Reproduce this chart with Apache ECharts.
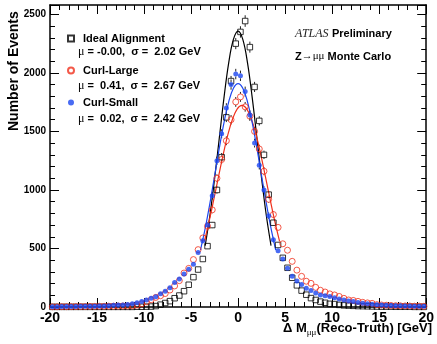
<!DOCTYPE html>
<html>
<head>
<meta charset="utf-8">
<script src="https://cdn.jsdelivr.net/npm/echarts@6/dist/echarts.min.js"></script>
<style>
  html, body { margin: 0; padding: 0; background: #fff; }
  #chart { width: 437px; height: 344px; }
</style>
</head>
<body>
<div id="chart"></div>
<script>
// histogram bins: 80 bins of 0.5 GeV from -20 to 20
const binLow = -20
const binWidth = 0.5

const idealAlignment = [
  1, 1, 1, 1, 1, 1, 1, 1, 1, 1,
  1, 1, 1, 1, 1, 1, 1, 1, 2, 2,
  3, 4, 8, 20, 34, 50, 75, 98, 135, 190,
  255, 320, 410, 520, 700, 1000, 1280, 1620, 1930, 2250,
  2350, 2443, 2220, 1880, 1590, 1300, 960, 720, 530, 420,
  335, 250, 185, 140, 105, 76, 60, 46, 36, 27,
  25, 18, 14, 12, 10, 8, 7, 6, 5, 4,
  3, 3, 3, 2, 2, 2, 2, 1, 1, 1
]
const curlLarge = [
  2, 2, 3, 3, 3, 4, 4, 4, 5, 5,
  6, 6, 7, 7, 8, 9, 9, 11, 17, 27,
  45, 62, 82, 96, 115, 145, 180, 225, 290, 330,
  405, 490, 590, 690, 830, 1100, 1260, 1420, 1600, 1752,
  1795, 1710, 1630, 1500, 1350, 1160, 920, 790, 680, 540,
  485, 390, 315, 262, 220, 202, 168, 143, 128, 112,
  103, 90, 74, 60, 56, 48, 40, 35, 31, 20,
  17, 15, 13, 11, 10, 9, 8, 7, 7, 6
]
const curlSmall = [
  3, 3, 4, 4, 5, 5, 6, 6, 7, 7,
  8, 9, 11, 14, 17, 18, 21, 28, 37, 46,
  60, 74, 88, 114, 135, 165, 210, 240, 282, 322,
  365, 465, 565, 700, 950, 1250, 1480, 1700, 1900, 1990,
  1975, 1840, 1640, 1400, 1210, 1000, 780, 575, 480, 410,
  330, 262, 222, 192, 160, 140, 120, 102, 96, 90,
  78, 68, 60, 52, 46, 38, 32, 27, 23, 20,
  17, 15, 13, 11, 10, 9, 9, 7, 6, 6
]

// gaussian fit curves
const fitIdealX = [-3.5, -3, -2.5, -2, -1.5, -1, -0.5, 0, 0.5, 1, 1.5, 2, 2.5, 3, 3.5]
const fitIdealY = [525, 782, 1096, 1444, 1789, 2085, 2286, 2357, 2286, 2085, 1789, 1444, 1096, 782, 525]
const fitSmallX = [-4, -3.5, -3, -2.5, -2, -1.5, -1, -0.5, 0, 0.5, 1, 1.5, 2, 2.5, 3, 3.5, 4]
const fitSmallY = [487, 671, 885, 1119, 1357, 1575, 1753, 1869, 1909, 1869, 1753, 1575, 1357, 1119, 885, 671, 487]
const fitLargeX = [-3.59, -3.09, -2.59, -2.09, -1.59, -1.09, -0.59, -0.09, 0.41, 0.91, 1.41, 1.91, 2.41, 2.91, 3.41, 3.91, 4.41]
const fitLargeY = [561, 730, 917, 1111, 1302, 1472, 1606, 1693, 1723, 1693, 1606, 1472, 1302, 1111, 917, 730, 561]

const legendStats = [
  "μ = -0.00,  σ =  2.02 GeV",
  "μ =  0.41,  σ =  2.67 GeV",
  "μ =  0.02,  σ =  2.42 GeV",
]

const BLACK = "#000"
const RED = "#f0301c"
const BLUE = "#1c46f0"
const SANS = "Liberation Sans, Arial, sans-serif"
const SERIF = "Liberation Serif, Times New Roman, serif"

const chart = echarts.init(document.getElementById("chart"), null, { renderer: "canvas" })

const toPoints = (vals) => vals.map((v, i) => [binLow + binWidth * (i + 0.5), v])

function errorBars(vals, gap) {
  return {
    type: "custom",
    data: toPoints(vals),
    silent: true,
    z: 1,
    renderItem: (params, api) => {
      const x = api.value(0)
      const v = api.value(1)
      const e = Math.sqrt(v)
      const c = api.coord([x, v])
      const top = api.coord([x, v + e])[1]
      const bot = api.coord([x, Math.max(v - e, 0)])[1]
      const kids = []
      if (c[1] - top > gap)
        kids.push({ type: "line", shape: { x1: c[0], y1: top, x2: c[0], y2: c[1] - gap }, style: { stroke: "#222", lineWidth: 1 } })
      if (bot - c[1] > gap)
        kids.push({ type: "line", shape: { x1: c[0], y1: c[1] + gap, x2: c[0], y2: bot }, style: { stroke: "#222", lineWidth: 1 } })
      return { type: "group", children: kids }
    },
  }
}

function fitLine(xs, ys, color) {
  return {
    type: "line",
    data: xs.map((x, i) => [x, ys[i]]),
    showSymbol: false,
    smooth: 0.4,
    silent: true,
    z: 2,
    lineStyle: { color, width: 1.2 },
  }
}

const axisCommon = {
  type: "value",
  axisLine: { show: true, onZero: false, lineStyle: { color: BLACK, width: 1.5 } },
  axisTick: { show: true, inside: true, length: 9, lineStyle: { color: BLACK, width: 1 } },
  minorTick: { show: true, splitNumber: 5, length: 5, lineStyle: { color: BLACK, width: 1 } },
  splitLine: { show: false },
}

chart.setOption({
  animation: false,
  grid: { left: 50, right: 7, top: 5, bottom: 37 },
  xAxis: [
    {
      ...axisCommon,
      position: "bottom",
      min: -20, max: 20, interval: 5,
      axisLabel: { color: BLACK, fontFamily: SANS, fontWeight: "bold", fontSize: 14, margin: 4 },
    },
    {
      ...axisCommon,
      position: "top",
      min: -20, max: 20, interval: 5,
      axisLabel: { show: false },
    },
  ],
  yAxis: [
    {
      ...axisCommon,
      position: "left",
      min: 0, max: 2580, interval: 500,
      axisLabel: {
        color: BLACK, fontFamily: SANS, fontWeight: "bold", fontSize: 10, margin: 4,
        showMaxLabel: false, formatter: (v) => String(v),
      },
    },
    {
      ...axisCommon,
      position: "right",
      min: 0, max: 2580, interval: 500,
      axisLabel: { show: false },
    },
  ],
  legend: {
    left: 62,
    top: 28,
    orient: "vertical",
    itemWidth: 6,
    itemHeight: 6,
    itemGap: 21,
    data: ["Ideal Alignment", "Curl-Large", "Curl-Small"],
    textStyle: { color: BLACK, fontFamily: SANS, fontWeight: "bold", fontSize: 11, padding: [0, 0, 0, 4] },
  },
  series: [
    errorBars(idealAlignment, 3),
    errorBars(curlLarge, 3),
    errorBars(curlSmall, 2.5),
    fitLine(fitIdealX, fitIdealY, BLACK),
    fitLine(fitLargeX, fitLargeY, RED),
    fitLine(fitSmallX, fitSmallY, BLUE),
    {
      name: "Ideal Alignment",
      type: "scatter",
      data: toPoints(idealAlignment),
      symbol: "rect",
      symbolSize: 5.5,
      z: 3,
      itemStyle: { color: "rgba(255,255,255,0)", borderColor: BLACK, borderWidth: 1 },
    },
    {
      name: "Curl-Large",
      type: "scatter",
      data: toPoints(curlLarge),
      symbol: "circle",
      symbolSize: 6,
      z: 4,
      itemStyle: { color: "rgba(255,255,255,0)", borderColor: RED, borderWidth: 1 },
    },
    {
      name: "Curl-Small",
      type: "scatter",
      data: toPoints(curlSmall),
      symbol: "circle",
      symbolSize: 5,
      z: 5,
      itemStyle: { color: BLUE, borderWidth: 0 },
    },
  ],
  graphic: [
    {
      type: "text",
      x: 7, y: 131,
      rotation: Math.PI / 2,
      style: { text: "Number of Events", fontFamily: SANS, fontWeight: "bold", fontSize: 14, fill: BLACK },
    },
    {
      type: "text",
      right: 5,
      top: 322,
      style: {
        text: "{b|Δ M}{s|μμ}{b|(Reco-Truth) [GeV]}",
        rich: {
          b: { fontFamily: SANS, fontWeight: "bold", fontSize: 13, fill: BLACK },
          s: { fontFamily: SERIF, fontSize: 9, fill: BLACK, padding: [9, 0, 0, 0] },
        },
      },
    },
    ...legendStats.map((t, i) => ({
      type: "text",
      left: 78,
      top: 46 + i * 33.5,
      style: {
        text: "{g|" + t[0] + "}{b|" + t.slice(1, 10) + "}{g|" + t[10] + "}{b|" + t.slice(11) + "}",
        rich: {
          b: { fontFamily: SANS, fontWeight: "bold", fontSize: 11, fill: BLACK },
          g: { fontFamily: SERIF, fontSize: 12, fill: BLACK },
        },
      },
    })),
    {
      type: "text",
      left: 295,
      top: 28,
      style: {
        text: "{i|ATLAS} {b|Preliminary}",
        rich: {
          i: { fontFamily: SERIF, fontStyle: "italic", fontSize: 12, fill: "#222" },
          b: { fontFamily: SANS, fontWeight: "bold", fontSize: 11, fill: BLACK },
        },
      },
    },
    {
      type: "text",
      left: 295,
      top: 51,
      style: {
        text: "{b|Z}{g|→μμ}{b| Monte Carlo}",
        rich: {
          b: { fontFamily: SANS, fontWeight: "bold", fontSize: 11, fill: BLACK },
          g: { fontFamily: SERIF, fontSize: 11, fill: BLACK },
        },
      },
    },
  ],
})
</script>
</body>
</html>
